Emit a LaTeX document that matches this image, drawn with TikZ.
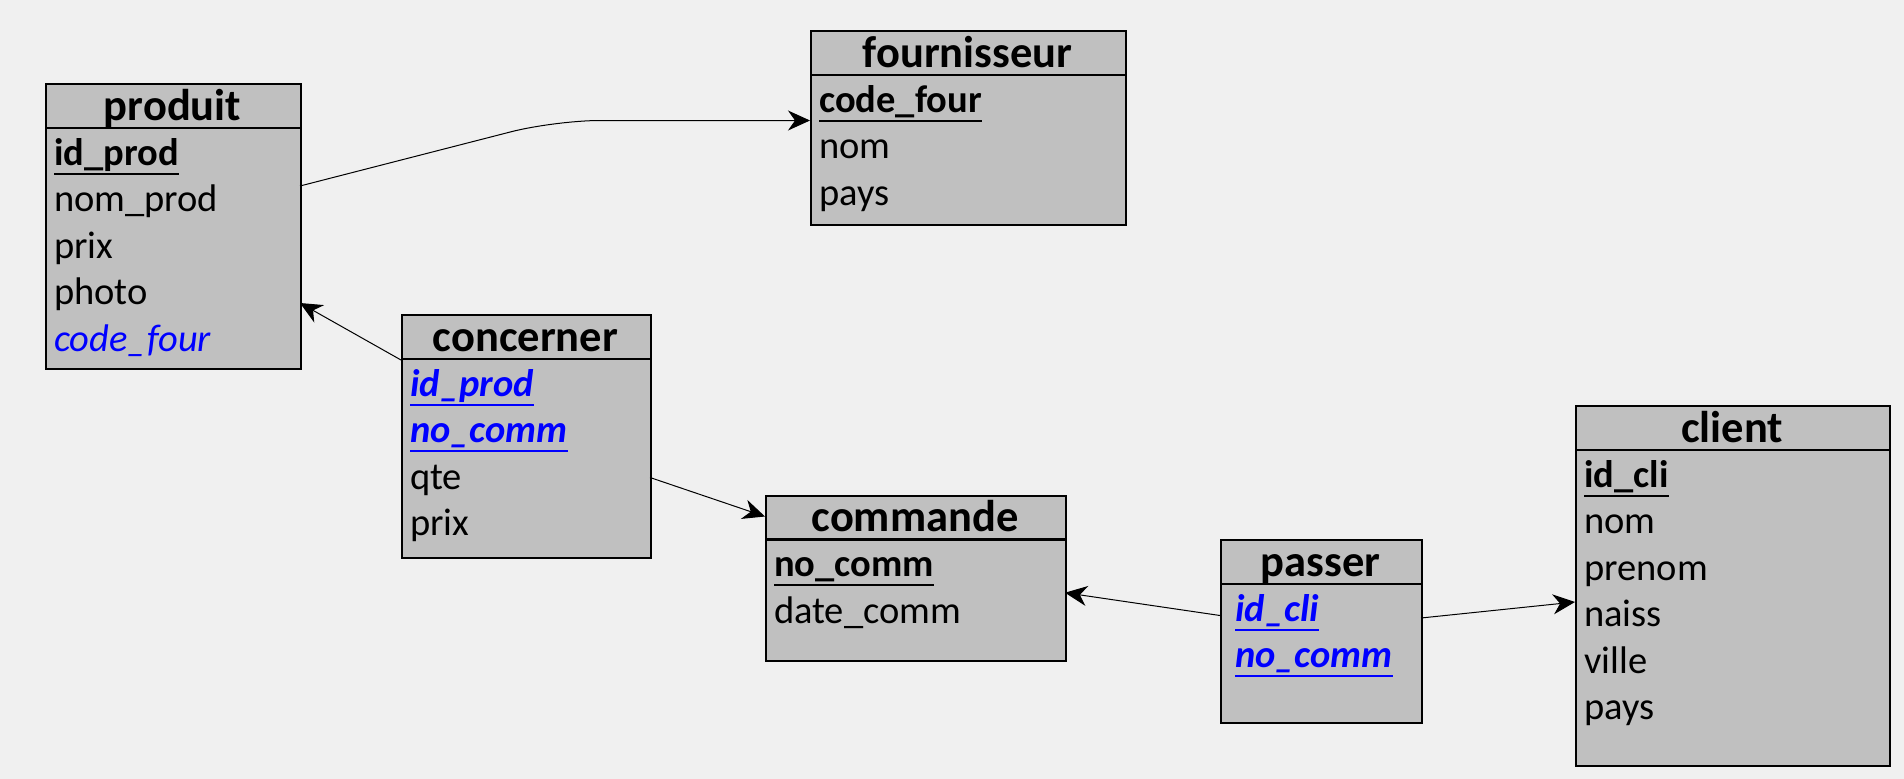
\documentclass[tikz,border=0pt]{standalone}
\usepackage{fontspec}
\setmainfont{Carlito}
\usetikzlibrary{arrows.meta}
\definecolor{bgc}{HTML}{F0F0F0}
\definecolor{boxc}{HTML}{C0C0C0}
\definecolor{fkc}{HTML}{0000FF}
\newcommand{\pkul}[1]{\setbox0\hbox{#1}\rlap{\rule[-0.255em]{\wd0}{0.055em}}\box0}
\tikzset{
  tbl/.style={draw=black, fill=boxc, line width=2.2pt, rectangle, inner sep=0pt, anchor=north west},
  sepline/.style={draw=black, line width=2.2pt},
  ttl/.style={anchor=base, inner sep=0pt, font=\fontsize{44.5}{52}\selectfont\bfseries},
  fld/.style={anchor=base west, inner sep=0pt, font=\fontsize{38.5}{45}\selectfont},
  pk/.style={fld, font=\fontsize{38.5}{45}\selectfont\bfseries},
  fk/.style={fld, text=fkc, font=\fontsize{38.5}{45}\selectfont\itshape},
  pfk/.style={fld, text=fkc, font=\fontsize{38.5}{45}\selectfont\bfseries\itshape},
  conn/.style={draw=black, line width=1pt, -{Stealth[length=22pt, width=20pt, inset=7pt]}}
}
\begin{document}
\begin{tikzpicture}[x=1pt, y=-1pt]
\fill[bgc] (0,0) rectangle (1904,779);
\useasboundingbox (0,0) rectangle (1904,779);

% produit
\node[tbl, minimum width=255pt, minimum height=285pt] (produit) at (45,83) {};
\draw[sepline] (45,128) -- (300,128);
\node[ttl] (produit-t) at (172.5,120) {produit};
\node[pk] (produit-1) at (54,165) {\pkul{id\_prod}};
\node[fld] (produit-2) at (54,211.5) {nom\_prod};
\node[fld] (produit-3) at (54,258) {prix};
\node[fld] (produit-4) at (54,304.5) {photo};
\node[fk] (produit-5) at (54,351) {code\_four};

% fournisseur
\node[tbl, minimum width=315pt, minimum height=194pt] (fournisseur) at (810,30) {};
\draw[sepline] (810,75) -- (1125,75);
\node[ttl] (fournisseur-t) at (967.5,67) {fournisseur};
\node[pk] (fournisseur-1) at (819,112) {\pkul{code\_four}};
\node[fld] (fournisseur-2) at (819,158.5) {nom};
\node[fld] (fournisseur-3) at (819,205) {pays};

% concerner
\node[tbl, minimum width=249pt, minimum height=243pt] (concerner) at (401,314) {};
\draw[sepline] (401,359) -- (650,359);
\node[ttl] (concerner-t) at (525.5,351) {concerner};
\node[pfk] (concerner-1) at (410,396) {\pkul{id\_prod}};
\node[pfk] (concerner-2) at (410,442.5) {\pkul{no\_comm}};
\node[fld] (concerner-3) at (410,489) {qte};
\node[fld] (concerner-4) at (410,535.5) {prix};

% commande
\node[tbl, minimum width=300pt, minimum height=165pt] (commande) at (765,495) {};
\draw[sepline] (765,539.5) -- (1065,539.5);
\node[ttl] (commande-t) at (915,531.5) {commande};
\node[pk] (commande-1) at (774,576.5) {\pkul{no\_comm}};
\node[fld] (commande-2) at (774,623) {date\_comm};

% passer
\node[tbl, minimum width=201pt, minimum height=183pt] (passer) at (1220,539) {};
\draw[sepline] (1220,584) -- (1421,584);
\node[ttl] (passer-t) at (1320.5,576) {passer};
\node[pfk] (passer-1) at (1235,621) {\pkul{id\_cli}};
\node[pfk] (passer-2) at (1235,667.5) {\pkul{no\_comm}};

% client
\node[tbl, minimum width=314pt, minimum height=360pt] (client) at (1575,405) {};
\draw[sepline] (1575,450) -- (1889,450);
\node[ttl] (client-t) at (1732,442) {client};
\node[pk] (client-1) at (1584,487) {\pkul{id\_cli}};
\node[fld] (client-2) at (1584,533.5) {nom};
\node[fld] (client-3) at (1584,580) {prenom};
\node[fld] (client-4) at (1584,626.5) {naiss};
\node[fld] (client-5) at (1584,673) {ville};
\node[fld] (client-6) at (1584,719.5) {pays};

% connector end points
\coordinate (c1s) at (300,186);
\coordinate (c1m) at (555,120.5);
\coordinate (c1e) at (810,120.5);
\coordinate (c2s) at (401,360);
\coordinate (c2e) at (300,303);
\coordinate (c3s) at (650,477.5);
\coordinate (c3e) at (765,516.5);
\coordinate (c4s) at (1220,615.5);
\coordinate (c4e) at (1065,592.7);
\coordinate (c5s) at (1421,618);
\coordinate (c5e) at (1575,602);

\draw[conn, rounded corners=45pt] (c1s) -- (c1m) -- (c1e);
\draw[conn] (c2s) -- (c2e);
\draw[conn] (c3s) -- (c3e);
\draw[conn] (c4s) -- (c4e);
\draw[conn] (c5s) -- (c5e);
\end{tikzpicture}
\end{document}
